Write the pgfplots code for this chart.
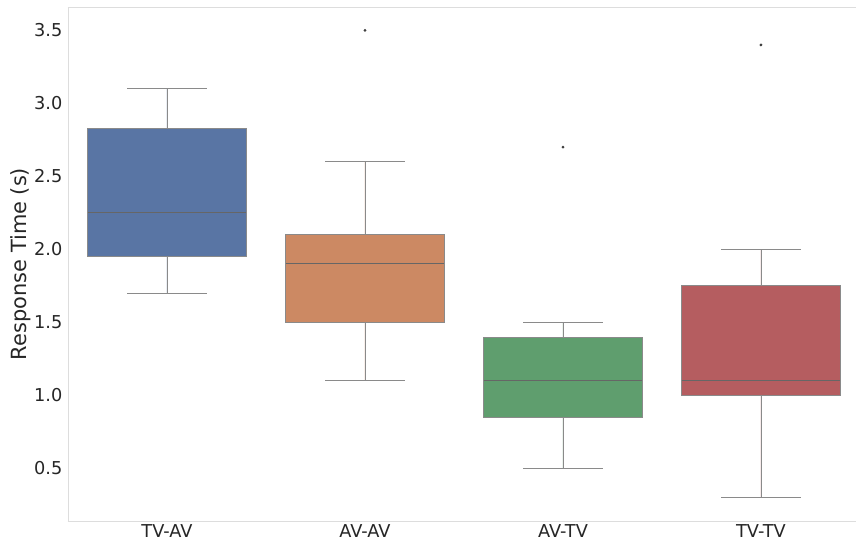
\documentclass[border=0pt]{standalone}
\usepackage{pgfplots}
\pgfplotsset{compat=1.18}
\usepgfplotslibrary{statistics}
\usepackage{fontspec}
\setmainfont{DejaVu Sans}
\definecolor{cblue}{HTML}{5975A4}
\definecolor{corange}{HTML}{CC8963}
\definecolor{cgreen}{HTML}{5F9E6E}
\definecolor{cred}{HTML}{B55D60}
\definecolor{lgray}{HTML}{8A8A8A}
\definecolor{spine}{HTML}{DDDDDD}
\definecolor{txt}{HTML}{262626}
\begin{document}
\begin{tikzpicture}
\begin{axis}[
  scale only axis,
  width=788bp, height=514bp,
  xmin=-0.5, xmax=3.48,
  ymin=0.14, ymax=3.66,
  axis x line=box, axis y line=left,
  axis line style={spine, line width=0.8bp, -},
  xtick={0,1,2,3},
  xticklabels={TV-AV,AV-AV,AV-TV,TV-TV},
  ytick={0.5,1.0,1.5,2.0,2.5,3.0,3.5},
  yticklabel style={/pgf/number format/.cd, fixed, fixed zerofill, precision=1},
  /pgf/number format/assume math mode=true,
  tick style={draw=none},
  ticklabel style={font=\fontsize{17.8}{20}\selectfont, text=txt},
  ylabel={Response Time (s)},
  every axis y label/.style={at={(axis description cs:-0.0475,0.5)}, anchor=south, rotate=90, inner sep=0pt, font=\fontsize{21}{24}\selectfont, text=txt},
  boxplot/draw direction=y,
  boxplot/box extend=0.8,
  boxplot/whisker extend=0.4,
  every boxplot/.style={draw=lgray, line width=0.9bp, mark=*, mark size=0.9bp, mark options={fill=black!75, draw=black!75}},
  boxplot/every median/.style={draw=black!60, line width=1bp},
  clip=false,
]
\addplot+[boxplot prepared={draw position=0, lower whisker=1.7, lower quartile=1.95, median=2.25, upper quartile=2.825, upper whisker=3.1}, fill=cblue, draw=lgray, solid] coordinates {};
\addplot+[boxplot prepared={draw position=1, lower whisker=1.1, lower quartile=1.5, median=1.9, upper quartile=2.1, upper whisker=2.6}, fill=corange, draw=lgray, solid] coordinates {(1,3.5)};
\addplot+[boxplot prepared={draw position=2, lower whisker=0.5, lower quartile=0.85, median=1.1, upper quartile=1.4, upper whisker=1.5}, fill=cgreen, draw=lgray, solid] coordinates {(2,2.7)};
\addplot+[boxplot prepared={draw position=3, lower whisker=0.3, lower quartile=1.0, median=1.1, upper quartile=1.75, upper whisker=2.0}, fill=cred, draw=lgray, solid] coordinates {(3,3.4)};
\end{axis}
\pgfresetboundingbox
\path ([shift={(-68bp,-22bp)}]current axis.south west) rectangle ([shift={(0bp,7bp)}]current axis.north east);
\end{tikzpicture}
\end{document}
